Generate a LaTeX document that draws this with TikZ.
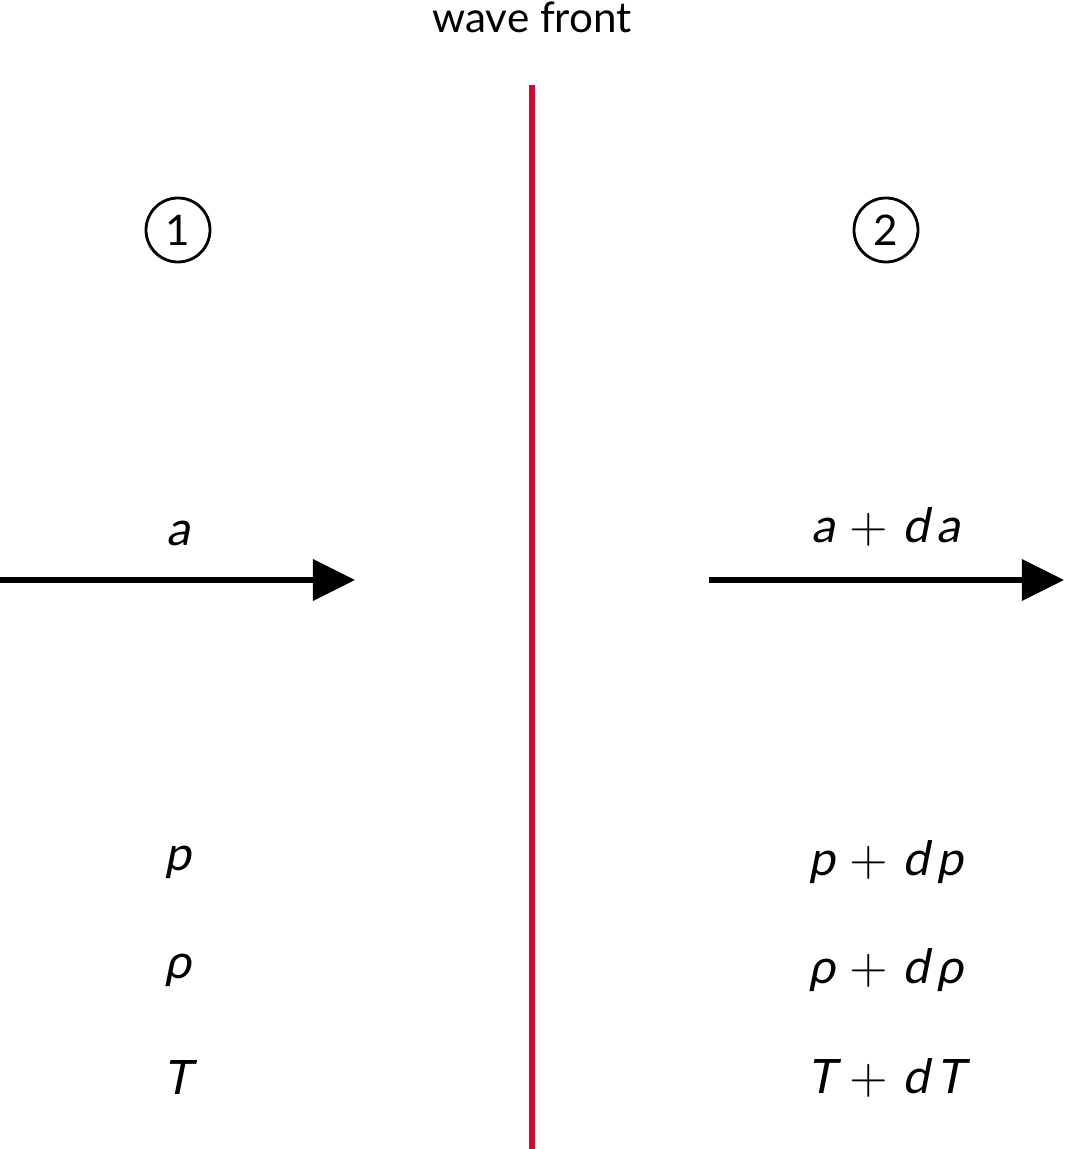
\documentclass[tikz,border=0pt]{standalone}
\usepackage{fontspec}
\setmainfont{Lato}
\newfontfamily\obllato[FakeSlant=0.2]{Lato}
\usetikzlibrary{arrows.meta,positioning}
\definecolor{frontred}{HTML}{D20A32}
\newcommand{\qty}[1]{{\obllato #1}}
\newcommand{\dqty}[1]{{\obllato #1}{\fontsize{15.5}{16}\selectfont$\;+\;$}{\obllato d\,#1}}

\begin{document}
\begin{tikzpicture}[
  lbl/.style={font=\fontsize{12}{14}\selectfont},
  var/.style={font=\fontsize{13.5}{16}\selectfont},
  state/.style={circle,draw=black,thick,minimum size=0.64cm,inner sep=0pt,font=\fontsize{12}{14}\selectfont},
  flow/.style={-{Triangle[length=12pt,width=11.5pt]},line width=1.7pt},
  front/.style={frontred,line width=1.7pt}]
% \draw[help lines] (0,0) grid (10.64,11.49);
\useasboundingbox (0,0) rectangle (10.64,11.49);
%
\node (wf) [lbl] at (5.32,11.32) {wave front};
\coordinate (ftop) at (5.32,10.64);
\coordinate (fbot) at (5.32,0);
\draw[front] (ftop) -- (fbot);
%
\node (one) [state] at (1.78,9.19) {1};
\node (two) [state] at (8.86,9.19) {2};
%
\coordinate (in1) at (0,5.69);
\coordinate (out1) at (3.55,5.69);
\coordinate (in2) at (7.09,5.69);
\coordinate (out2) at (10.64,5.69);
{\path[flow] (in1) edge (out1);}
{\path[flow] (in2) edge (out2);}
%
\node (a1) [var] at (1.78,6.16) {\qty{a}};
\node (a2) [var] at (8.86,6.22) {\dqty{a}};
\node (p1) [var] at (1.78,2.87) {\qty{p}};
\node (p2) [var] at (8.86,2.87) {\dqty{p}};
\node (r1) [var] at (1.78,1.79) {\qty{ρ}};
\node (r2) [var] at (8.86,1.79) {\dqty{ρ}};
\node (t1) [var] at (1.78,0.71) {\qty{T}};
\node (t2) [var] at (8.86,0.71) {\dqty{T}};
\end{tikzpicture}
\end{document}
